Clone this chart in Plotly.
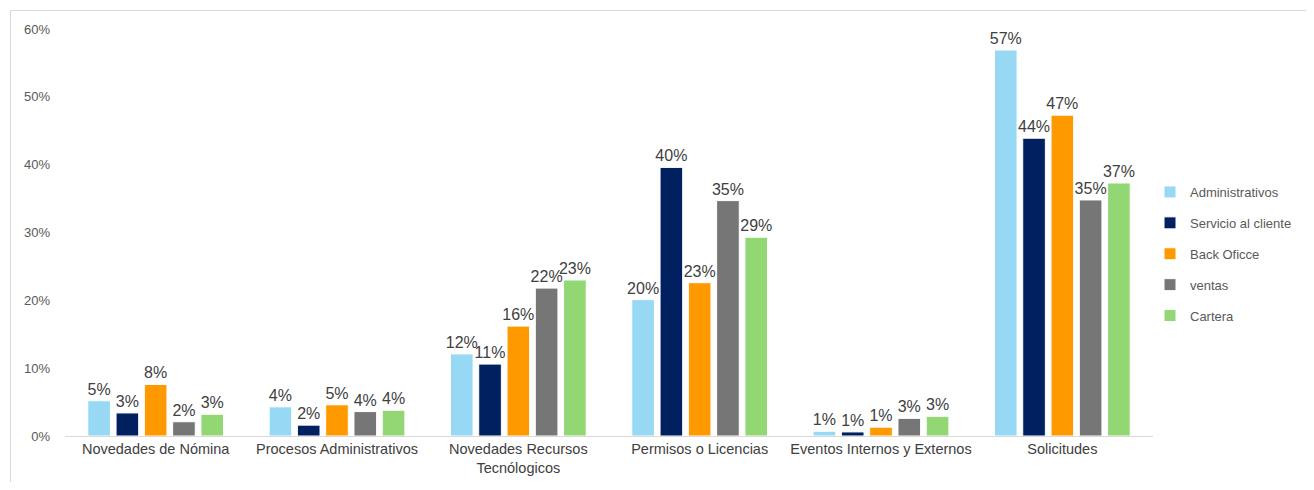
import plotly.graph_objects as go

categories = ["Novedades de Nómina", "Procesos Administrativos", "Novedades Recursos<br>Tecnólogicos",
              "Permisos o Licencias", "Eventos Internos y Externos", "Solicitudes"]

administrativos = [0.052, 0.043, 0.121, 0.201, 0.007, 0.569]
servicio_cliente = [0.034, 0.016, 0.106, 0.396, 0.006, 0.439]
back_office = [0.076, 0.046, 0.162, 0.226, 0.013, 0.473]
ventas = [0.021, 0.036, 0.218, 0.347, 0.026, 0.348]
cartera = [0.032, 0.038, 0.230, 0.293, 0.029, 0.373]

series = [
    ("Administrativos", administrativos, "#97D9F5"),
    ("Servicio al cliente", servicio_cliente, "#002060"),
    ("Back Oficce", back_office, "#FF9900"),
    ("ventas", ventas, "#767676"),
    ("Cartera", cartera, "#92D774"),
]

fig = go.Figure()
for i, (name, vals, color) in enumerate(series):
    fig.add_trace(go.Bar(
        name=name, x=categories, y=vals,
        marker=dict(color=color, line=dict(color="white", width=1)),
        texttemplate="%{y:.0%}", textposition="outside",
        textfont=dict(size=16, color="#404040", family="Liberation Sans, Arial, sans-serif"),
        constraintext="none", cliponaxis=False,
        legendgroup=f"g{i}",
    ))

# page body has an 8px margin; figure coordinates are offset from screen by 8px
W, H = 1298, 474
L, T = 57, 21
PR, PB = 1145, 428
R, B = W - PR, H - PB
pw = PR - L
ph = PB - T

def px_x(p):
    return (p - 8 - L) / pw

def px_y(p):
    return (PB - (p - 8)) / ph

fig.update_layout(
    width=W, height=H,
    margin=dict(l=L, r=R, t=T, b=B, autoexpand=False),
    paper_bgcolor="white", plot_bgcolor="white",
    barmode="group", bargap=0.22, bargroupgap=0.2,
    font=dict(family="Liberation Sans, Arial, sans-serif", color="#595959", size=13),
    legend=dict(xref="container", yref="container", x=1142 / W, y=1 - 246 / H,
                xanchor="left", yanchor="middle",
                font=dict(size=13, color="#595959"),
                tracegroupgap=11, itemwidth=30),
    shapes=[
        dict(type="line", xref="paper", yref="paper", x0=px_x(10.5), x1=px_x(1314), y0=px_y(10.5), y1=px_y(10.5),
             line=dict(color="#d9d9d9", width=1)),
        dict(type="line", xref="paper", yref="paper", x0=px_x(10.5), x1=px_x(10.5), y0=px_y(10.5), y1=px_y(490),
             line=dict(color="#d9d9d9", width=1)),
    ],
)
fig.update_xaxes(showline=True, linecolor="#d9d9d9", linewidth=1, ticks="", automargin=False,
                 tickfont=dict(size=14.5, color="#404040"), showgrid=False)
fig.update_yaxes(range=[0, 0.6], tickvals=[0, 0.1, 0.2, 0.3, 0.4, 0.5, 0.6], tickformat=".0%",
                 showgrid=False, zeroline=False, showline=False, automargin=False,
                 tickfont=dict(size=13, color="#595959"), ticklabelstandoff=14)

fig.write_html("out.html")
